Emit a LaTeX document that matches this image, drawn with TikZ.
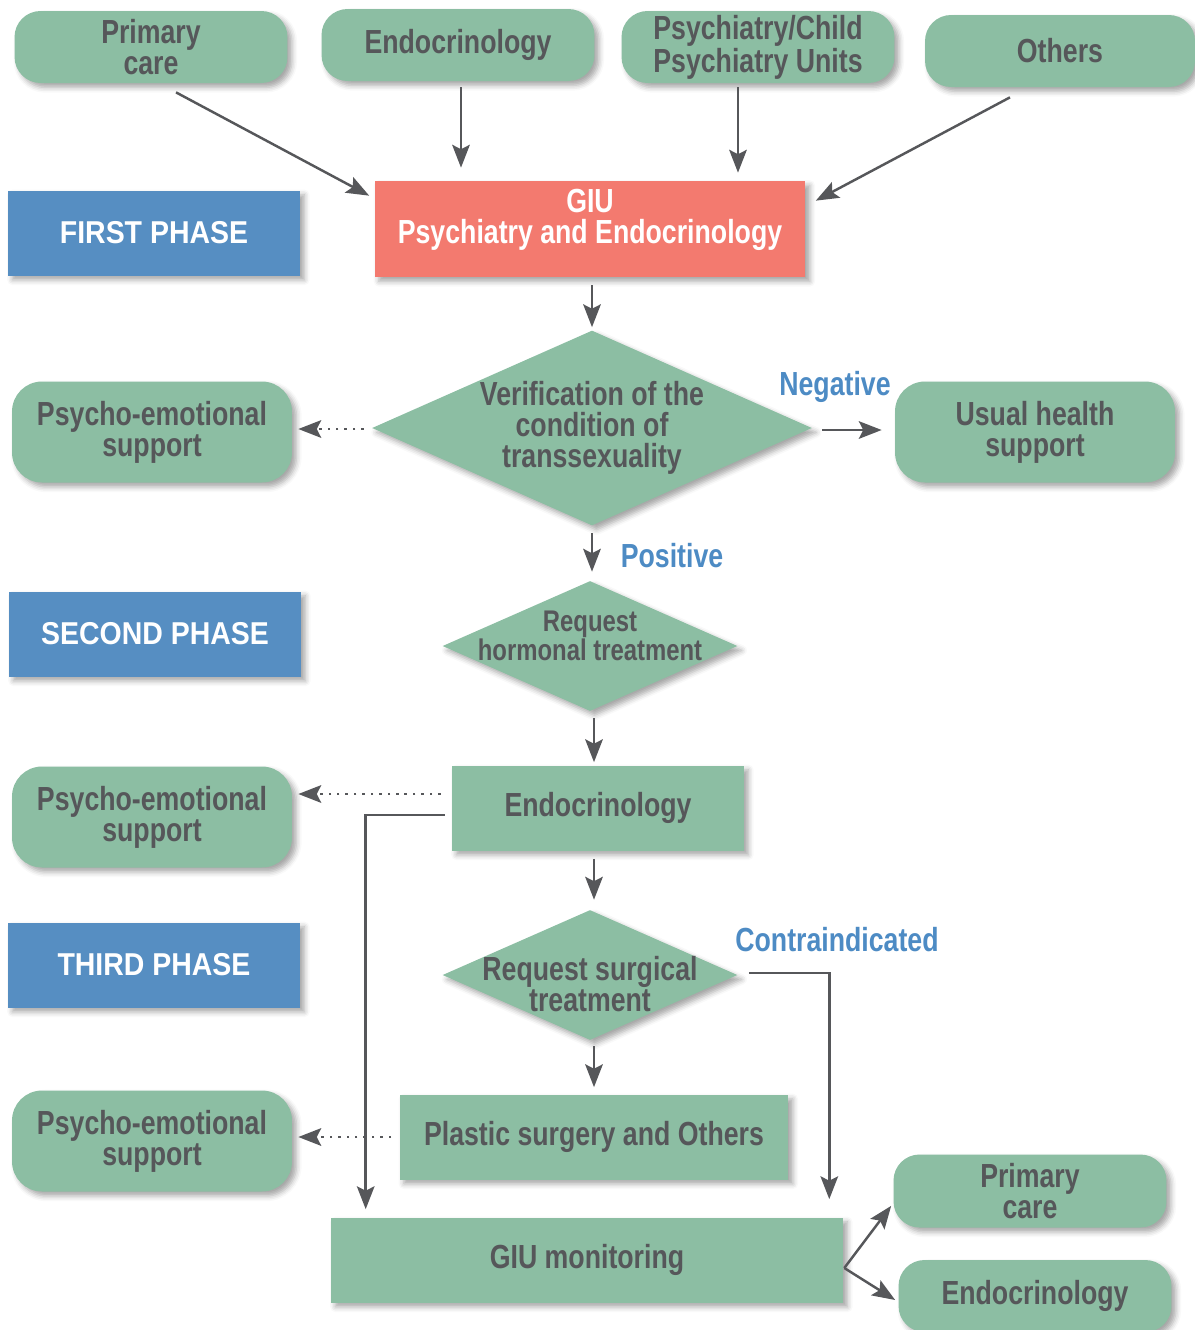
\documentclass[tikz,border=0pt]{standalone}
\usepackage{fontspec}
\setmainfont{Liberation Sans}[FakeStretch=0.8]
\newfontfamily\phasefont{Liberation Sans}[FakeStretch=0.9]
\usepackage{tikz}
\usetikzlibrary{calc, shapes.geometric, arrows.meta, shadows.blur}

\definecolor{boxgreen}{HTML}{8CBEA3}
\definecolor{phaseblue}{HTML}{568EC2}
\definecolor{giured}{HTML}{F37A6F}
\definecolor{inkgray}{HTML}{56575A}
\definecolor{tagblue}{HTML}{4D8BC4}

\newcommand{\boxfont}{\fontsize{19}{17.5}\selectfont\bfseries}
\newcommand{\dfont}{\fontsize{17}{16.5}\selectfont\bfseries}

\begin{document}
\begin{tikzpicture}[x=0.02cm, y=-0.02cm,
  shade/.style={blur shadow={shadow xshift=2.5pt, shadow yshift=-2.5pt, shadow blur radius=3pt, shadow opacity=35}},
  unit/.style={shade, fill=boxgreen, rounded corners=0.52cm, text=inkgray, align=center, font=\boxfont, minimum width=5.46cm, minimum height=1.44cm, inner sep=0pt},
  support/.style={unit, rounded corners=0.6cm, minimum width=5.6cm, minimum height=2.02cm},
  phase/.style={shade, fill=phaseblue, text=white, font=\phasefont\fontsize{18}{20}\selectfont\bfseries, minimum width=5.84cm, minimum height=1.7cm},
  stage/.style={shade, fill=boxgreen, text=inkgray, align=center, font=\boxfont, minimum height=1.7cm},
  decision/.style={shade, diamond, fill=boxgreen, inner sep=0pt},
  dtext/.style={text=inkgray, align=center, font=\boxfont},
  tag/.style={text=tagblue, font=\boxfont},
  arr/.style={draw=inkgray, line width=1.4pt, -{Stealth[length=13pt, width=10pt, inset=2.5pt]}},
  dots/.style={arr, line width=1.5pt, dash pattern=on 1.4pt off 3.4pt}]
\useasboundingbox (0,0) rectangle (1195,1330);

% referring units
\node [unit] (pc1) at (151,47) {Primary\\care};
\node [unit] (endo1) at (458,45) {Endocrinology};
\node [unit] (psy) at (758,47) {Psychiatry/Child\\Psychiatry Units};
\node [unit, minimum width=5.4cm] (oth) at (1060,51) {Others};

% first phase
\node [phase] (first) at (154,233) {FIRST PHASE};
\node [shade, fill=giured, minimum width=8.62cm, minimum height=1.92cm,
  label={[dtext, text=white, yshift=0.18cm]center:{GIU\\Psychiatry and Endocrinology}}] (giu) at (590,229) {};
\node [decision, minimum width=8.8cm, minimum height=3.9cm,
  label={[dtext]center:{Verification of the\\condition of\\transsexuality}}] (ver) at (592,428) {};
\node [support] (sup1) at (152,432) {Psycho-emotional\\support};
\node [support] (usual) at (1035,432) {Usual health\\support};
\node [tag] (neg) at (835,387) {Negative};
\node [tag] (pos) at (672,556) {Positive};

% second phase
\node [phase] (second) at (155,634) {SECOND PHASE};
\node [decision, minimum width=5.9cm, minimum height=2.6cm,
  label={[dtext, font=\dfont, yshift=0.2cm]center:{Request\\hormonal treatment}}] (hormone) at (590,646) {};
\node [stage, minimum width=5.84cm] (endo2) at (598,808) {Endocrinology};
\node [support] (sup2) at (152,817) {Psycho-emotional\\support};

% third phase
\node [phase] (third) at (154,965) {THIRD PHASE};
\node [decision, minimum width=5.9cm, minimum height=2.6cm,
  label={[dtext, yshift=-0.18cm]center:{Request surgical\\treatment}}] (surg) at (590,975) {};
\node [tag] (contra) at (837,940) {Contraindicated};
\node [stage, minimum width=7.78cm] (plastic) at (594,1137) {Plastic surgery and Others};
\node [support] (sup3) at (152,1141) {Psycho-emotional\\support};
\node [stage, minimum width=10.24cm] (mon) at (587,1260) {GIU monitoring};
\node [unit, minimum height=1.46cm] (pc2) at (1030,1191) {Primary\\care};
\node [unit] (endo3) at (1035,1296) {Endocrinology};

% connectors
\draw [arr] ($(pc1.south)+(25,9)$) -- ($(giu.north west)+(-5,15)$);
\draw [arr] ($(endo1.south)+(3,6)$) -- ($(endo1.south |- giu.north)+(3,-13)$);
\draw [arr] ($(psy.south)+(-20,4)$) -- ($(psy.south |- giu.north)+(-20,-8)$);
\draw [arr] ($(oth.south)+(-50,10)$) -- ($(giu.north east)+(10,20)$);
\draw [arr] ($(giu.south -| ver.north)+(0,8)$) -- ($(ver.north)+(0,-3)$);
\draw [dots] ($(ver.west)+(-8,1)$) -- ($(ver.west -| sup1.east)+(6,1)$);
\draw [arr] ($(ver.east)+(10,2)$) -- ($(ver.east -| usual.west)+(-13,2)$);
\draw [arr] ($(ver.south)+(0,7)$) -- ($(ver.south |- hormone.north)+(0,-9)$);
\draw [arr] ($(hormone.south)+(4,7)$) -- ($(hormone.south |- endo2.north)+(4,-3)$);
\draw [dots] ($(endo2.west)+(-11,-14)$) -- ($(endo2.west -| sup2.east)+(6,-14)$);
\draw [arr] ($(endo2.west)+(-7,7)$) -| ($(mon.north west)+(35,-8)$);
\draw [arr] ($(endo2.south)+(-4,8)$) -- ($(endo2.south |- surg.north)+(-4,-10)$);
\draw [arr] ($(surg.east)+(11,-2)$) -| ($(mon.north east)+(-14,-18)$);
\draw [arr] ($(surg.south)+(4,6)$) -- ($(surg.south |- plastic.north)+(4,-7)$);
\draw [dots] ($(plastic.west)+(-8,0)$) -- ($(plastic.west -| sup3.east)+(6,0)$);
\coordinate (fork) at ($(mon.east)+(1,8)$);
\draw [arr] (fork) -- ($(pc2.south west)+(-2,-22)$);
\draw [arr] (fork) -- ($(endo3.west)+(-3,4)$);
\end{tikzpicture}
\end{document}
